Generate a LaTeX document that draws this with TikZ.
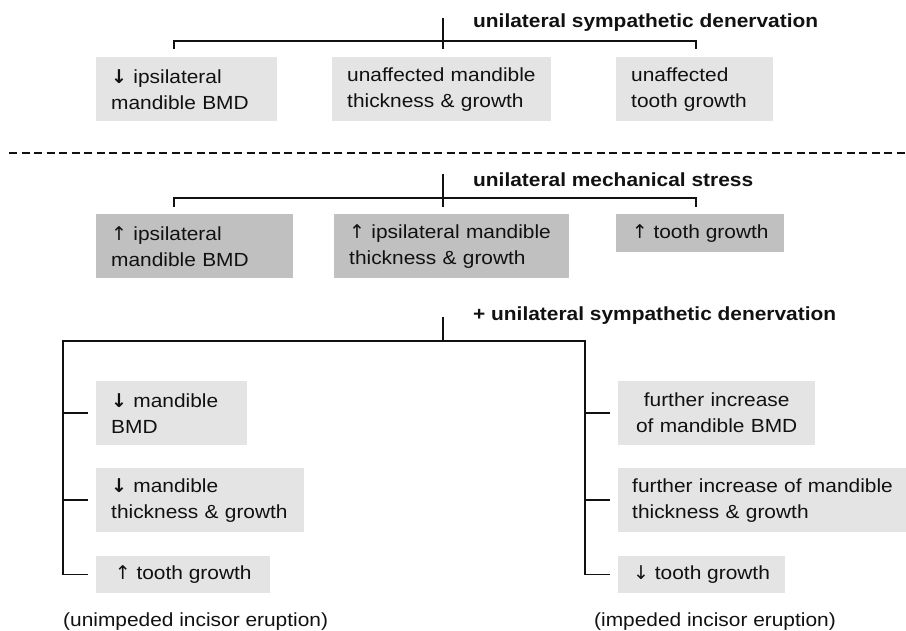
\documentclass[tikz,border=0pt]{standalone}
\usepackage{fontspec}
\setmainfont[FakeStretch=1.1]{Liberation Sans}
\newfontfamily\arrowfont{DejaVu Sans}
\usetikzlibrary{positioning}
\definecolor{boxlight}{HTML}{E4E4E4}
\definecolor{boxdark}{HTML}{C0C0C0}
\definecolor{ink}{HTML}{111111}
\newcommand{\arrdn}{{\arrowfont ↓}}
\newcommand{\arrdnb}{{\arrowfont\bfseries ↓}}
\newcommand{\arrup}{{\arrowfont ↑}}

\begin{document}
\begin{tikzpicture}[
  x=1pt, y=-1pt,
  font=\fontsize{19}{26}\selectfont,
  blk/.style={fill=boxlight, anchor=north west, minimum height=64pt, inner xsep=15pt, inner ysep=0pt, align=left, text=ink},
  blkd/.style={blk, fill=boxdark},
  hdr/.style={anchor=base west, font=\fontsize{19}{26}\selectfont\bfseries, inner sep=0pt, text=ink},
  captxt/.style={anchor=base west, inner sep=0pt, text=ink},
  link/.style={draw=ink, line width=1.5pt},
  sep/.style={draw=ink, line width=1.2pt, dash pattern=on 8pt off 4.5pt},
]
\useasboundingbox (0,0) rectangle (906,631);
% ---------- sympathetic denervation ----------
\node[hdr] (hA) at (473,28) {unilateral sympathetic denervation};
\node[blk, text width=151pt] (a1) at (96,57) {\arrdnb\ ipsilateral\\mandible BMD};
\node[blk, text width=189pt] (a2) at (332,57) {unaffected mandible\\thickness \& growth};
\node[blk, text width=127pt] (a3) at (616,57) {unaffected\\tooth growth};
\coordinate (aTop) at (443,18);
\coordinate (aL) at (174,49);
\coordinate (aR) at (696,49);
\draw[link] (aL) -- ++(0,-8) -| (aR);
\draw[link] (aTop) -- (aTop |- aL);
% ---------- separator ----------
\coordinate (sL) at (9,153);
\coordinate (sR) at (906,153);
\draw[sep] (sL) -- (sR);
% ---------- mechanical stress ----------
\node[hdr] (hB) at (473,187) {unilateral mechanical stress};
\node[blkd, text width=167pt] (b1) at (96,214) {\arrup\ ipsilateral\\mandible BMD};
\node[blkd, text width=205pt] (b2) at (334,214) {\arrup\ ipsilateral mandible\\thickness \& growth};
\node[blkd, minimum width=168pt, minimum height=38pt, align=center] (b3) at (616,214) {\arrup\ tooth growth};
\coordinate (bTop) at (443,174);
\coordinate (bL) at (174,207);
\coordinate (bR) at (696,207);
\draw[link] (bL) -- ++(0,-9) -| (bR);
\draw[link] (bTop) -- (bTop |- bL);
% ---------- + sympathetic denervation ----------
\node[hdr] (hC) at (473,321) {+ unilateral sympathetic denervation};
\node[blk, text width=121pt] (c1) at (96,381) {\arrdnb\ mandible\\BMD};
\node[blk, text width=178pt] (c2) at (96,468) {\arrdnb\ mandible\\thickness \& growth};
\node[blk, minimum width=174pt, minimum height=37pt, align=center] (c3) at (96,556) {\arrup\ tooth growth};
\node[blk, text width=167pt, align=center] (d1) at (618,381) {further increase\\of mandible BMD};
\node[blk, inner xsep=14pt, text width=264pt] (d2) at (618,468) {further increase of mandible\\thickness \& growth};
\node[blk, minimum width=165pt, minimum height=37pt, align=center] (d3) at (618,556) {\arrdn\ tooth growth};
\coordinate (cTop) at (443,317);
\coordinate (cL) at (63,341);
\coordinate (cR) at (585,341);
\draw[link] (cTop) -- (cTop |- cL);
\draw[link] ([xshift=-8pt]c3.west) -| (cL) -- (cR) |- ([xshift=-8pt]d3.west);
\draw[link] ([xshift=-8pt]c1.west) -- (cL |- c1.west);
\draw[link] ([xshift=-8pt]c2.west) -- (cL |- c2.west);
\draw[link] ([xshift=-8pt]d1.west) -- (cR |- d1.west);
\draw[link] ([xshift=-8pt]d2.west) -- (cR |- d2.west);
\node[captxt] (capL) at (63,626) {(unimpeded incisor eruption)};
\node[captxt] (capR) at (594,626) {(impeded incisor eruption)};
\end{tikzpicture}
\end{document}
